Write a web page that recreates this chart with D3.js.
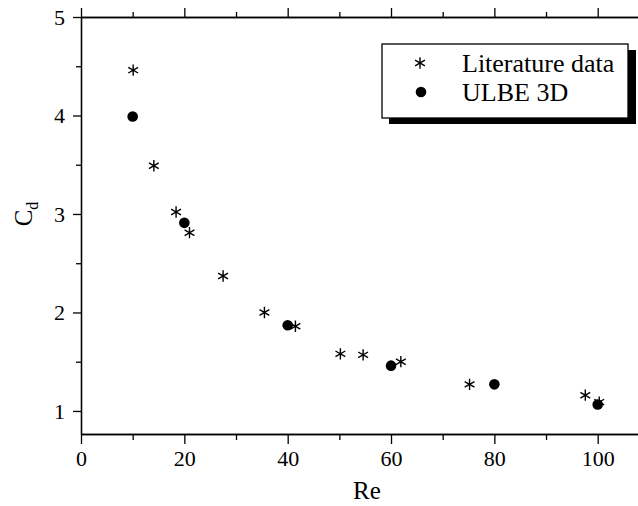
<!DOCTYPE html>
<html>
<head>
<meta charset="utf-8">
<script src="https://cdn.jsdelivr.net/npm/d3@7"></script>
<style>
  body { margin: 0; background: #fff; }
  text { font-family: "Liberation Serif", "Times New Roman", serif; fill: #000; }
</style>
</head>
<body>
<div id="chart"></div>
<script>
// data
var litRe = [10.1, 14.1, 18.4, 21.0, 27.5, 35.5, 41.5, 50.2, 54.6, 61.9, 75.2, 97.6, 100.3];
var litCd = [4.46, 3.49, 3.02, 2.81, 2.37, 2.00, 1.86, 1.58, 1.57, 1.50, 1.27, 1.16, 1.09];
var ulbeRe = [10, 20, 40, 60, 80, 100];
var ulbeCd = [3.99, 2.91, 1.87, 1.46, 1.27, 1.065];
var xTicks = [0, 20, 40, 60, 80, 100];
var yTicks = [1, 2, 3, 4, 5];
var legendLabels = ["Literature data", "ULBE 3D"];

var svgWidth = 638;
var svgHeight = 506;

var svg = d3.select("#chart")
  .append("svg")
  .attr("width", svgWidth)
  .attr("height", svgHeight);

// plot frame (note: "top" is reserved on window, so prefix these)
var plotLeft = 81, plotRight = 638, plotTop = 17, plotBottom = 434;

var x = d3.scaleLinear()
  .domain([0, 107.8])
  .range([plotLeft, plotRight]);

var y = d3.scaleLinear()
  .domain([0.766, 5])
  .range([plotBottom, plotTop]);

var xMinor = d3.range(10, 108, 20);
var yMinor = d3.range(1.5, 5, 1);

// bottom axis
svg.append("g")
  .attr("transform", `translate(0, ${plotBottom})`)
  .call(d3.axisBottom(x).tickValues(xTicks).tickSize(10).tickPadding(6).tickSizeOuter(0));
svg.append("g")
  .attr("transform", `translate(0, ${plotBottom})`)
  .call(d3.axisBottom(x).tickValues(xMinor).tickSize(6).tickFormat("").tickSizeOuter(0));

// top axis (ticks only)
svg.append("g")
  .attr("transform", `translate(0, ${plotTop})`)
  .call(d3.axisTop(x).tickValues(xTicks).tickSize(9).tickFormat("").tickSizeOuter(0));
svg.append("g")
  .attr("transform", `translate(0, ${plotTop})`)
  .call(d3.axisTop(x).tickValues(xMinor).tickSize(5).tickFormat("").tickSizeOuter(0));

// left axis
svg.append("g")
  .attr("transform", `translate(${plotLeft}, 0)`)
  .call(d3.axisLeft(y).tickValues(yTicks).tickSize(8).tickPadding(8).tickFormat(d3.format("d")).tickSizeOuter(0));
svg.append("g")
  .attr("transform", `translate(${plotLeft}, 0)`)
  .call(d3.axisLeft(y).tickValues(yMinor).tickSize(5).tickFormat("").tickSizeOuter(0));

svg.selectAll(".domain, .tick line")
  .attr("stroke", "#000")
  .attr("stroke-width", 1.3);
svg.selectAll(".tick text")
  .style("font-size", "22px")
  .style("font-family", "'Liberation Serif', serif");

// axis titles
svg.append("text")
  .attr("x", 367)
  .attr("y", 499)
  .attr("text-anchor", "middle")
  .style("font-size", "25px")
  .text("Re");

var yTitle = svg.append("text")
  .attr("transform", "translate(32, 214) rotate(-90)")
  .attr("text-anchor", "middle")
  .style("font-size", "25px");
yTitle.append("tspan").text("C");
yTitle.append("tspan")
  .attr("dy", 6)
  .style("font-size", "16px")
  .text("d");

var star = d3.symbol().type(d3.symbolAsterisk).size(90);

var litData = litRe.map((d, i) => ({re: d, cd: litCd[i]}));
var ulbeData = ulbeRe.map((d, i) => ({re: d, cd: ulbeCd[i]}));

// ULBE points
svg.append("g").selectAll("circle")
  .data(ulbeData)
  .enter()
  .append("circle")
  .attr("cx", d => x(d.re))
  .attr("cy", d => y(d.cd))
  .attr("r", 5.3)
  .attr("fill", "#000");

// literature points
svg.append("g").selectAll("path")
  .data(litData)
  .enter()
  .append("path")
  .attr("d", star)
  .attr("transform", d => `translate(${x(d.re)}, ${y(d.cd)})`)
  .attr("fill", "none")
  .attr("stroke", "#000")
  .attr("stroke-width", 1.4);

// legend
var legend = svg.append("g");
legend.append("rect")
  .attr("x", 389).attr("y", 50)
  .attr("width", 247).attr("height", 74)
  .attr("fill", "#000");
legend.append("rect")
  .attr("x", 382).attr("y", 44)
  .attr("width", 246).attr("height", 74)
  .attr("fill", "#fff")
  .attr("stroke", "#000")
  .attr("stroke-width", 1.3);

legend.append("path")
  .attr("d", star)
  .attr("transform", "translate(420, 63)")
  .attr("fill", "none")
  .attr("stroke", "#000")
  .attr("stroke-width", 1.4);
legend.append("circle")
  .attr("cx", 421).attr("cy", 92)
  .attr("r", 5.3)
  .attr("fill", "#000");

legend.selectAll("text.lg")
  .data(legendLabels)
  .enter()
  .append("text")
  .attr("class", "lg")
  .attr("x", 462)
  .attr("y", (d, i) => 72 + i * 28.5)
  .style("font-size", "26px")
  .text(d => d);
</script>
</body>
</html>
